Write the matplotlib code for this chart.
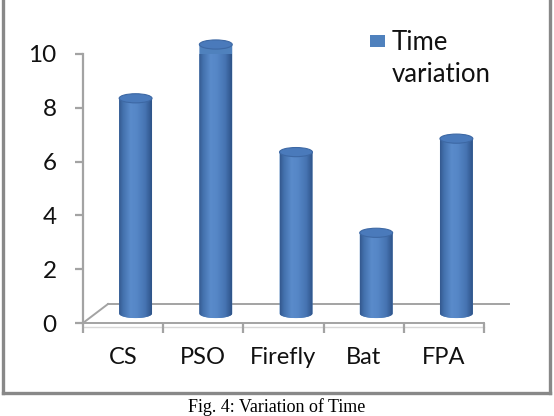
import numpy as np
import matplotlib
matplotlib.use("Agg")
import matplotlib.pyplot as plt
from matplotlib.path import Path
from matplotlib.patches import PathPatch, Ellipse, Rectangle
from matplotlib.lines import Line2D
from matplotlib.colors import LinearSegmentedColormap
import matplotlib.transforms as mtransforms

# ---- data ----
categories = ["CS", "PSO", "Firefly", "Bat", "FPA"]
time_values = [8, 10, 6, 3, 6.5]
series_lines = ["Time", "variation"]
y_ticks = [0, 2, 4, 6, 8, 10]
caption = "Fig. 4: Variation of Time"

W, H = 554, 416
fig = plt.figure(figsize=(W / 100, H / 100), dpi=100)
FONT = "Lato"
GRAY = "#a3a3a3"
FS = 17

# front plane of the 3D chart
ax_l, ax_r, ax_t, ax_b = 83, 484, 54, 323
ax = fig.add_axes([ax_l / W, (H - ax_b) / H, (ax_r - ax_l) / W, (ax_b - ax_t) / H])
ax.set_xlim(-0.5, len(categories) - 0.5)
ax.set_ylim(0, 10)
ax.patch.set_visible(False)
for s in ["top", "right"]:
    ax.spines[s].set_visible(False)
ax.spines["left"].set_color(GRAY)
ax.spines["left"].set_linewidth(1.6)
ax.spines["bottom"].set_color(GRAY)
ax.spines["bottom"].set_linewidth(1.4)

ax.set_yticks(y_ticks)
ax.set_yticklabels([str(t) for t in y_ticks], fontsize=FS + 0.5, family=FONT, color="#111111")
ax.tick_params(axis="y", length=6, width=1.6, color=GRAY, pad=13)

bounds = np.arange(len(categories) + 1) - 0.5
ax.set_xticks(bounds)
ax.set_xticklabels([])
ax.tick_params(axis="x", which="major", length=7, width=1.6, color=GRAY)
ax.set_xticks(np.arange(len(categories)), minor=True)
ax.set_xticklabels(categories, minor=True, fontsize=FS, family=FONT, color="#111111")
ax.tick_params(axis="x", which="minor", length=0, pad=17)

# depth offsets (pixels)
DX, DY = 25, 19
back = ax.transData + mtransforms.ScaledTranslation(DX / 100, DY / 100, fig.dpi_scale_trans)
mid = ax.transData + mtransforms.ScaledTranslation(DX / 200, DY / 200, fig.dpi_scale_trans)
below = ax.transData + mtransforms.ScaledTranslation(0, -4 / 100, fig.dpi_scale_trans)
below_back = ax.transData + mtransforms.ScaledTranslation(DX / 100, (DY - 4) / 100, fig.dpi_scale_trans)

x0f, x1f = -0.5, len(categories) - 0.5
# floor: back edge and side edges
ax.plot([x0f, x1f], [0, 0], transform=back, color=GRAY, lw=1.4, zorder=1, clip_on=False)
for xx in (x0f, x1f):
    p_front = ax.transData.transform((xx, 0))
    p_back = back.transform((xx, 0))
    ax.add_artist(Line2D([p_front[0], p_back[0]], [p_front[1], p_back[1]], transform=None,
                         color=GRAY, lw=1.4, zorder=1))
# floor slab (thin lower edge)
ax.plot([x0f, x1f], [0, 0], transform=below, color="#d8d8d8", lw=1.0, zorder=1, clip_on=False)
p_a = below.transform((x1f, 0))
p_b = below_back.transform((x1f, 0))
ax.add_artist(Line2D([p_a[0], p_b[0]], [p_a[1], p_b[1]], transform=None, color="#d0d0d0", lw=1.0, zorder=1))

# ---- cylinders ----
bw = 0.41
ry = 0.17
cmap = LinearSegmentedColormap.from_list("cyl", [
    (0.0, "#34598f"), (0.12, "#4371ad"), (0.35, "#5a8bcb"), (0.55, "#5586c6"),
    (0.8, "#4674b2"), (1.0, "#2e5388")])
grad = np.linspace(0, 1, 128)[None, :]
for i, v in enumerate(time_values):
    x0, x1 = i - bw / 2, i + bw / 2
    rx = bw / 2
    th = np.linspace(np.pi, 2 * np.pi, 40)
    verts = [(x0, v), (x0, 0)] + [(i + rx * np.cos(t), ry * np.sin(t)) for t in th] + [(x1, v), (x0, v)]
    codes = [Path.MOVETO] + [Path.LINETO] * (len(verts) - 2) + [Path.CLOSEPOLY]
    body = PathPatch(Path(verts, codes), transform=mid, facecolor="#4f81bd",
                     edgecolor="none", zorder=3, clip_on=False)
    ax.add_patch(body)
    im = ax.imshow(grad, cmap=cmap, extent=[x0, x1, -ry, v], transform=mid,
                   aspect="auto", interpolation="bilinear", zorder=3.1)
    im.set_clip_path(body)
    top = Ellipse((i, v), bw, 2 * ry, transform=mid, facecolor="#4a7abb",
                  edgecolor="#3d68a4", lw=0.8, zorder=4, clip_on=False)
    ax.add_patch(top)

ax.set_xlim(-0.5, len(categories) - 0.5)
ax.set_ylim(0, 10)
ax.set_aspect("auto")

# ---- legend ----
fig.add_artist(Rectangle((370 / W, (H - 47) / H), 15 / W, 12 / H, transform=fig.transFigure,
                         facecolor="#4f81bd", edgecolor="none"))
fig.text(392 / W, (H - 50) / H, series_lines[0], family=FONT, fontsize=18.5, ha="left",
         va="baseline", color="#111111")
fig.text(392 / W, (H - 82) / H, series_lines[1], family=FONT, fontsize=18.5, ha="left",
         va="baseline", color="#111111")

# ---- frame ----
fc = "#888888"
fig.add_artist(Line2D([3 / W, 3 / W], [(H - 393) / H, 1.0], transform=fig.transFigure, color=fc, lw=2.4))
fig.add_artist(Line2D([549.5 / W, 549.5 / W], [(H - 393) / H, 1.0], transform=fig.transFigure, color=fc, lw=2.4))
fig.add_artist(Line2D([3 / W, 549.5 / W], [(H - 393) / H, (H - 393) / H], transform=fig.transFigure, color=fc, lw=2.4))

fig.text(0.5, (H - 407) / H, caption, family="Liberation Serif", fontsize=13, ha="center", va="center")

fig.savefig("out.png", dpi=100)
